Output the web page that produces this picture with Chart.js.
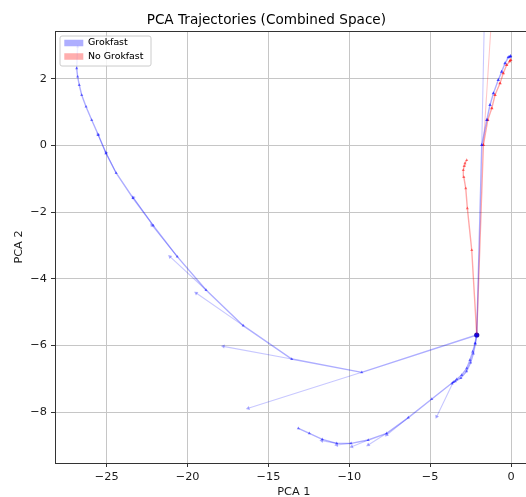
<!DOCTYPE html>
<html>
<head>
<meta charset="utf-8">
<script src="https://cdn.jsdelivr.net/npm/chart.js@4.4.1/dist/chart.umd.min.js"></script>
<style>
  html, body { margin: 0; padding: 0; background: #ffffff; overflow: hidden; width: 526px; height: 497px; }
  canvas { display: block; }
</style>
</head>
<body>
<canvas id="c" width="588" height="499"></canvas>
<script>
// ---------- data ----------
const chartTitle = 'PCA Trajectories (Combined Space)';
const xLabel = 'PCA 1';
const yLabel = 'PCA 2';
const legendLabels = ['Grokfast', 'No Grokfast'];

const xTicks = [-25, -20, -15, -10, -5, 0];
const yTicks = [-8, -6, -4, -2, 0, 2];
const xLimits = [-28.2, 1.34];
const yLimits = [-9.53, 3.43];

// Grokfast: long arc towards upper left
const gArcX = [-2.12, -9.23, -13.56, -16.56, -18.86, -20.64, -22.12, -23.38, -24.42, -25.04, -25.52, -25.93, -26.28, -26.55, -26.70, -26.80, -26.86, -26.80];
const gArcY = [-5.69, -6.81, -6.41, -5.41, -4.34, -3.34, -2.41, -1.58, -0.83, -0.24, 0.31, 0.76, 1.16, 1.51, 1.81, 2.06, 2.31, 2.96];
// Grokfast: lower branch
const gLowX = [-2.12, -2.23, -2.37, -2.54, -2.74, -3.05, -3.36, -3.57, -4.90, -6.35, -7.69, -8.83, -9.89, -10.78, -11.67, -12.47, -13.15];
const gLowY = [-5.69, -5.94, -6.19, -6.44, -6.69, -6.89, -7.02, -7.10, -7.61, -8.17, -8.64, -8.84, -8.94, -8.94, -8.82, -8.64, -8.49];
const gLow2X = [-2.12, -2.20, -2.33, -2.50, -2.75, -3.10, -3.45, -3.65];
const gLow2Y = [-5.69, -5.95, -6.25, -6.52, -6.78, -6.98, -7.08, -7.15];
// Grokfast: right branch
const gRightX = [-2.12, -1.81, -1.50, -1.30, -1.09, -0.79, -0.58, -0.37, -0.17, -0.06, -0.03];
const gRightY = [-5.69, 0.01, 0.76, 1.21, 1.56, 1.96, 2.21, 2.46, 2.64, 2.66, 2.68];
// Grokfast arrows (from -> to)
const gArrFromX = [-16.56, -18.86, -20.64, -22.12, -13.56, -9.23, -3.57, -6.35, -7.69, -8.83, -9.89, -10.78, -1.81, -25.04, -24.42];
const gArrFromY = [-5.41, -4.34, -3.34, -2.41, -6.41, -6.81, -7.10, -8.17, -8.64, -8.84, -8.94, -8.94, 0.01, -0.24, -0.83];
const gArrToX = [-19.47, -21.09, -22.22, -23.36, -17.79, -16.25, -4.60, -7.69, -8.83, -9.85, -10.78, -11.70, -1.60, -25.55, -25.05];
const gArrToY = [-4.43, -3.34, -2.39, -1.56, -6.03, -7.89, -8.14, -8.69, -8.99, -9.04, -8.99, -8.86, 5.00, 0.33, -0.22];

// No Grokfast: branch to the cluster
const nClusterX = [-2.12, -2.43, -2.70, -2.80, -2.92, -2.95, -2.90, -2.85, -2.74];
const nClusterY = [-5.69, -3.14, -1.89, -1.29, -0.95, -0.74, -0.62, -0.54, -0.44];
// No Grokfast: right branch
const nRightX = [-2.12, -1.71, -1.44, -1.19, -0.99, -0.68, -0.48, -0.27, -0.08, -0.02];
const nRightY = [-5.69, 0.01, 0.76, 1.11, 1.51, 1.86, 2.16, 2.41, 2.52, 2.56];
// No Grokfast arrows
const nArrFromX = [-1.71];
const nArrFromY = [0.01];
const nArrToX = [-1.05];
const nArrToY = [5.00];

// common start point
const startX = [-2.12];
const startY = [-5.69];

// ---------- styles ----------
const FONT = "'DejaVu Sans', 'Liberation Sans', sans-serif";
const blueLine = 'rgba(0,0,255,0.32)';
const bluePoint = 'rgba(0,0,255,0.5)';
const redLine = 'rgba(255,0,0,0.34)';
const redPoint = 'rgba(255,0,0,0.5)';
const legendFill = ['rgba(0,0,255,0.28)', 'rgba(255,0,0,0.28)'];

const pts = (xs, ys) => xs.map((x, i) => ({ x: x, y: ys[i] }));
const segs = (fx, fy, tx, ty) => fx.flatMap((x, i) => [
  { x: x, y: fy[i] }, { x: tx[i], y: ty[i] }, { x: tx[i], y: null }
]);

function arrowRotation(ctx) {
  const i = ctx.dataIndex;
  if (i % 3 !== 1) return 0;
  const d = ctx.dataset.data;
  const sx = ctx.chart.scales.x, sy = ctx.chart.scales.y;
  const dx = sx.getPixelForValue(d[i].x) - sx.getPixelForValue(d[i - 1].x);
  const dy = sy.getPixelForValue(d[i].y) - sy.getPixelForValue(d[i - 1].y);
  return Math.atan2(dx, -dy) * 180 / Math.PI;
}

function lineSet(label, data, line, point, radius) {
  return {
    label: label, data: data, showLine: true,
    borderColor: line, backgroundColor: point, borderWidth: 1.4,
    pointRadius: radius, pointBorderWidth: 0, pointStyle: 'triangle',
    pointBackgroundColor: point
  };
}
function arrowSet(label, data, line, point) {
  return {
    label: label, data: data, showLine: true, spanGaps: false,
    borderColor: line, backgroundColor: point, borderWidth: 1.1,
    pointStyle: 'triangle', pointBorderWidth: 0, pointBackgroundColor: point,
    pointRadius: (c) => (c.dataIndex % 3 === 1 ? 2.4 : 0),
    pointRotation: arrowRotation
  };
}

const datasets = [
  lineSet('Grokfast', pts(gArcX, gArcY), blueLine, bluePoint, 1.8),
  lineSet('Grokfast', pts(gLowX, gLowY), blueLine, bluePoint, 1.8),
  lineSet('Grokfast', pts(gLow2X, gLow2Y), blueLine, bluePoint, 1.8),
  lineSet('Grokfast', pts(gRightX, gRightY), blueLine, 'rgba(0,0,255,0.65)', 2.0),
  arrowSet('Grokfast', segs(gArrFromX, gArrFromY, gArrToX, gArrToY), 'rgba(0,0,255,0.22)', 'rgba(0,0,255,0.32)'),
  lineSet('No Grokfast', pts(nClusterX, nClusterY), redLine, redPoint, 1.8),
  lineSet('No Grokfast', pts(nRightX, nRightY), redLine, 'rgba(255,0,0,0.65)', 2.0),
  arrowSet('No Grokfast', segs(nArrFromX, nArrFromY, nArrToX, nArrToY), 'rgba(255,0,0,0.22)', 'rgba(255,0,0,0.32)'),
  {
    label: 'start', data: pts(startX, startY), showLine: false,
    pointRadius: 2.6, pointStyle: 'circle', pointBorderWidth: 0,
    pointBackgroundColor: 'rgba(20,0,170,0.95)', backgroundColor: 'rgba(20,0,170,0.95)'
  }
];

const framePlugin = {
  id: 'mplFrame',
  afterLayout(chart) {
    const ca = chart.chartArea;
    if (chart.legend) {
      chart.legend.left = ca.left + 5.3;
      chart.legend.top = ca.top + 3.3;
    }
  },
  afterDatasetsDraw(chart) {
    const ctx = chart.ctx, ca = chart.chartArea;
    const x0 = ca.left + 5, y0 = ca.top + 5, w = 91, h = 30, r = 2;
    ctx.save();
    ctx.beginPath();
    ctx.moveTo(x0 + r, y0);
    ctx.lineTo(x0 + w - r, y0); ctx.quadraticCurveTo(x0 + w, y0, x0 + w, y0 + r);
    ctx.lineTo(x0 + w, y0 + h - r); ctx.quadraticCurveTo(x0 + w, y0 + h, x0 + w - r, y0 + h);
    ctx.lineTo(x0 + r, y0 + h); ctx.quadraticCurveTo(x0, y0 + h, x0, y0 + h - r);
    ctx.lineTo(x0, y0 + r); ctx.quadraticCurveTo(x0, y0, x0 + r, y0);
    ctx.closePath();
    ctx.fillStyle = 'rgba(255,255,255,0.8)';
    ctx.fill();
    ctx.strokeStyle = '#cccccc';
    ctx.lineWidth = 1;
    ctx.stroke();
    ctx.restore();
    if (chart.legend) chart.legend.draw();
    ctx.save();
    ctx.strokeStyle = '#333333';
    ctx.lineWidth = 1;
    ctx.beginPath();
    ctx.moveTo(ca.left, Math.round(ca.top) + 0.5);
    ctx.lineTo(ca.right, Math.round(ca.top) + 0.5);
    ctx.moveTo(Math.round(ca.right) - 0.5, ca.top);
    ctx.lineTo(Math.round(ca.right) - 0.5, ca.bottom);
    ctx.stroke();
    ctx.restore();
  }
};

Chart.defaults.font.family = FONT;
Chart.defaults.color = '#1a1a1a';

new Chart(document.getElementById('c'), {
  type: 'scatter',
  data: { datasets: datasets },
  options: {
    responsive: false,
    animation: false,
    devicePixelRatio: 1,
    layout: { padding: { left: 0, right: 55.3, top: 0, bottom: 0 } },
    plugins: {
      tooltip: { enabled: false },
      title: {
        display: true, text: chartTitle, color: '#000000',
        font: { family: FONT, size: 13.6, weight: 'normal', lineHeight: 1.2 },
        padding: { top: 12.6, bottom: 2.1 }
      },
      legend: {
        display: true, position: 'chartArea', align: 'start',
        labels: {
          boxWidth: 19, boxHeight: 6.5, padding: 4, color: '#000000',
          font: { family: FONT, size: 9.4 },
          generateLabels: () => legendLabels.map((t, i) => ({
            text: t, fillStyle: legendFill[i], strokeStyle: 'rgba(0,0,0,0)',
            lineWidth: 0, hidden: false, datasetIndex: i === 0 ? 0 : 5
          }))
        }
      }
    },
    scales: {
      x: {
        type: 'linear', position: 'bottom',
        min: xLimits[0], max: xLimits[1],
        afterBuildTicks: (s) => { s.ticks = xTicks.map(v => ({ value: v })); },
        afterFit: (s) => { s.height = 36; },
        grid: { color: '#c6c6c6', lineWidth: 1, tickLength: 4, tickColor: '#333333', drawTicks: true },
        border: { color: '#333333', width: 1 },
        ticks: {
          padding: 3, color: '#1a1a1a', maxRotation: 0, autoSkip: false,
          font: { family: FONT, size: 11.3 },
          callback: (v) => String(v).replace('-', '\u2212')
        },
        title: {
          display: true, text: xLabel, color: '#1a1a1a',
          font: { family: FONT, size: 11.3, lineHeight: 1.2 }, padding: { top: 0, bottom: 0 }
        }
      },
      y: {
        type: 'linear', position: 'left',
        min: yLimits[0], max: yLimits[1],
        afterBuildTicks: (s) => { s.ticks = yTicks.map(v => ({ value: v })); },
        afterFit: (s) => { s.width = 55; },
        grid: { color: '#c6c6c6', lineWidth: 1, tickLength: 4, tickColor: '#333333', drawTicks: true },
        border: { color: '#333333', width: 1 },
        ticks: {
          padding: 4, color: '#1a1a1a', autoSkip: false,
          font: { family: FONT, size: 11.3 },
          callback: (v) => String(v).replace('-', '\u2212')
        },
        title: {
          display: true, text: yLabel, color: '#1a1a1a',
          font: { family: FONT, size: 11.3, lineHeight: 1.2 }, padding: { top: 12, bottom: 0 }
        }
      }
    }
  },
  plugins: [framePlugin]
});
</script>
</body>
</html>
